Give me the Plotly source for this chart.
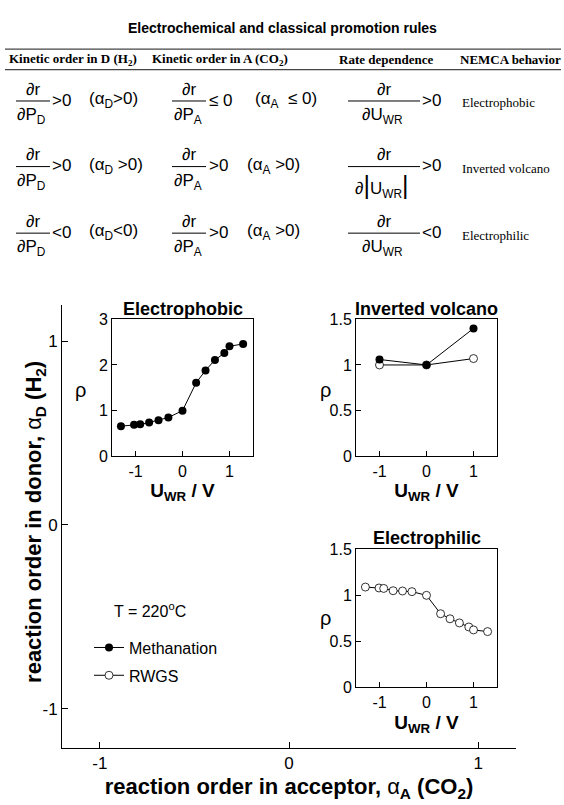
import plotly.graph_objects as go

W, H = 564, 805
SANS = "Liberation Sans, Arial, sans-serif"
SERIF = "Liberation Serif, Times New Roman, serif"

# ---------------- data ----------------
phobic_u = [-1.31, -1.03, -0.90, -0.71, -0.51, -0.30, 0.0, 0.29, 0.49, 0.69, 0.89, 1.0, 1.29]
phobic_rho_meth = [0.66, 0.69, 0.70, 0.74, 0.79, 0.85, 1.0, 1.61, 1.88, 2.11, 2.26, 2.41, 2.46]

volcano_u = [-1, 0, 1]
volcano_rho_meth = [1.06, 1.0, 1.40]
volcano_rho_rwgs = [1.0, 1.0, 1.07]

philic_u = [-1.30, -1.01, -0.91, -0.71, -0.51, -0.31, 0.0, 0.30, 0.50, 0.70, 0.90, 1.0, 1.30]
philic_rho_rwgs = [1.09, 1.08, 1.075, 1.05, 1.047, 1.04, 1.0, 0.80, 0.745, 0.70, 0.656, 0.624, 0.606]

main_ticks = [-1, 0, 1]
main_ticktext = ["-1", "0", "1"]
inset_u_ticks = [-1, 0, 1]
inset_u_ticktext = ["-1", "0", "1"]
phobic_rho_ticks = [0, 1, 2, 3]
small_rho_ticks = [0, 0.5, 1, 1.5]

series_names = ["Methanation", "RWGS"]
inset_titles = ["Electrophobic", "Inverted volcano", "Electrophilic"]
temperature_label = "T = 220<sup>o</sup>C"
x_title = "<b>reaction order in acceptor, </b>α<b><sub>A</sub> (CO<sub>2</sub>)</b>"
y_title = "<b>reaction order in donor, </b>α<b><sub>D</sub> (H<sub>2</sub>)</b>"

# table text
table_title = "Electrochemical and classical promotion rules"
table_headers = ["Kinetic order in D (H<sub>2</sub>)", "Kinetic order in A (CO<sub>2</sub>)",
                 "Rate dependence", "NEMCA behavior"]
numerator = "∂r"
col1_den = "∂P<sub>D</sub>"
col1_rel = ["&gt;0", "&gt;0", "&lt;0"]
col1_cond = ["(α<sub>D</sub>&gt;0)", "(α<sub>D</sub> &gt;0)", "(α<sub>D</sub>&lt;0)"]
col2_den = "∂P<sub>A</sub>"
col2_rel = ["≤ 0", "&gt;0", "&gt;0"]
col2_cond = ["(α<sub>A</sub>  ≤ 0)", "(α<sub>A</sub> &gt;0)", "(α<sub>A</sub> &gt;0)"]
col3_den = ["∂U<sub>WR</sub>",
            "∂<span style=\"font-size:25px\">|</span>U<sub>WR</sub><span style=\"font-size:25px\">|</span>",
            "∂U<sub>WR</sub>"]
col3_rel = ["&gt;0", "&gt;0", "&lt;0"]
behaviors = ["Electrophobic", "Inverted volcano", "Electrophilic"]


def px(x):
    return x / W


def py(y):
    return 1 - y / H


fig = go.Figure()

# main (empty) axes
fig.add_trace(go.Scatter(x=[], y=[], xaxis="x", yaxis="y", showlegend=False))

line_style = dict(color="black", width=1)
filled = dict(symbol="circle", size=8, color="black", line=dict(color="black", width=0))
opened = dict(symbol="circle", size=8, color="white", line=dict(color="black", width=0.8))

# Inset 1: electrophobic
fig.add_trace(go.Scatter(x=phobic_u, y=phobic_rho_meth, xaxis="x2", yaxis="y2",
                         mode="lines+markers", line=line_style, marker=filled,
                         name=series_names[0], showlegend=False))
# Inset 2: inverted volcano (RWGS first so filled markers sit on top)
fig.add_trace(go.Scatter(x=volcano_u, y=volcano_rho_rwgs, xaxis="x3", yaxis="y3",
                         mode="lines+markers", line=line_style, marker=opened,
                         name=series_names[1], legendrank=2, legendgroup="b"))
fig.add_trace(go.Scatter(x=volcano_u, y=volcano_rho_meth, xaxis="x3", yaxis="y3",
                         mode="lines+markers", line=line_style, marker=filled,
                         name=series_names[0], legendrank=1, legendgroup="a"))
# Inset 3: electrophilic
fig.add_trace(go.Scatter(x=philic_u, y=philic_rho_rwgs, xaxis="x4", yaxis="y4",
                         mode="lines+markers", line=line_style, marker=opened,
                         name=series_names[1], showlegend=False))

main_axis = dict(showline=True, linecolor="black", linewidth=1, mirror=False,
                 ticks="inside", ticklen=6, tickcolor="black", showgrid=False,
                 zeroline=False, tickvals=main_ticks, ticktext=main_ticktext,
                 tickfont=dict(size=17, family=SANS, color="black"))
inset_axis = dict(showline=True, linecolor="black", linewidth=1, mirror=True,
                  ticks="inside", ticklen=5, tickcolor="black", showgrid=False,
                  zeroline=False, tickfont=dict(size=16, family=SANS, color="black"))

u_title = dict(text="<b>U<sub>WR</sub> / V</b>", font=dict(size=19, family=SANS, color="black"), standoff=2)

box1_x = [px(112), px(253)]
box2_x = [px(356), px(497)]
top_y = [py(458), py(318)]
bot_y = [py(694), py(553)]

fig.update_layout(
    width=W, height=H, margin=dict(l=0, r=0, t=0, b=0),
    paper_bgcolor="white", plot_bgcolor="white",
    font=dict(family=SANS, color="black"),
    xaxis=dict(main_axis, domain=[px(62), px(516)], anchor="y", range=[-1.2, 1.2],
               title=dict(text=x_title, font=dict(size=22, family=SANS, color="black"), standoff=6)),
    yaxis=dict(main_axis, domain=[py(756), py(303)], anchor="x", range=[-1.215, 1.2]),
    xaxis2=dict(inset_axis, domain=box1_x, anchor="y2", range=[-1.5, 1.5],
                tickvals=inset_u_ticks, ticktext=inset_u_ticktext, title=u_title),
    yaxis2=dict(inset_axis, domain=top_y, anchor="x2", range=[0, 3],
                tickvals=phobic_rho_ticks),
    xaxis3=dict(inset_axis, domain=box2_x, anchor="y3", range=[-1.5, 1.5],
                tickvals=inset_u_ticks, ticktext=inset_u_ticktext, title=u_title),
    yaxis3=dict(inset_axis, domain=top_y, anchor="x3", range=[0, 1.5],
                tickvals=small_rho_ticks),
    xaxis4=dict(inset_axis, domain=box2_x, anchor="y4", range=[-1.5, 1.5],
                tickvals=inset_u_ticks, ticktext=inset_u_ticktext, title=dict(u_title, standoff=6)),
    yaxis4=dict(inset_axis, domain=bot_y, anchor="x4", range=[0, 1.5],
                tickvals=small_rho_ticks),
    legend=dict(x=px(89), y=py(636), xanchor="left", yanchor="top",
                font=dict(size=16, family=SANS, color="black"),
                bgcolor="rgba(0,0,0,0)", tracegroupgap=4),
)

ann = []


def add_text(x, y, text, size=17, family=SANS, xanchor="center", yanchor="middle", bold=False, angle=0):
    ann.append(dict(x=px(x), y=py(y), xref="paper", yref="paper", text=("<b>%s</b>" % text) if bold else text,
                    showarrow=False, xanchor=xanchor, yanchor=yanchor, textangle=angle,
                    font=dict(size=size, family=family, color="black")))


# main y-axis title (rotated)
add_text(35, 525, y_title, size=22, angle=-90)
# inset titles
add_text((112 + 253) / 2, 307, inset_titles[0], size=18, bold=True)
add_text((356 + 497) / 2, 307, inset_titles[1], size=18, bold=True)
add_text((356 + 497) / 2, 541, inset_titles[2], size=18, bold=True)
# inset y labels (upright rho)
add_text(80, 390, "ρ", size=20)
add_text(325, 390, "ρ", size=20)
add_text(325, 623, "ρ", size=20)
# temperature note
add_text(112, 615, temperature_label, size=16, xanchor="left")

# table
add_text(282, 20, table_title, size=14, bold=True)
header_cx = [73, 220, 386, 510]
for cx, h in zip(header_cx, table_headers):
    add_text(cx, 52.5, h, size=13, family=SERIF, bold=True)

shapes = []
for yy in (42, 63):
    shapes.append(dict(type="line", xref="paper", yref="paper", x0=px(5), x1=px(561),
                       y0=py(yy), y1=py(yy), line=dict(color="#444444", width=1.2)))

bar_y = [95, 162, 230]
for i, by in enumerate(bar_y):
    # column 1
    shapes.append(dict(type="line", xref="paper", yref="paper", x0=px(16), x1=px(50),
                       y0=py(by), y1=py(by), line=dict(color="black", width=1)))
    add_text(33, by - 12, numerator)
    add_text(31, by + 2, col1_den, yanchor="top")
    add_text(50, by - 1, col1_rel[i], xanchor="left")
    add_text(87, by - 1, col1_cond[i], xanchor="left")
    # column 2
    shapes.append(dict(type="line", xref="paper", yref="paper", x0=px(172), x1=px(206),
                       y0=py(by), y1=py(by), line=dict(color="black", width=1)))
    add_text(189, by - 12, numerator)
    add_text(188, by + 2, col2_den, yanchor="top")
    add_text(207, by - 1, col2_rel[i], xanchor="left")
    add_text(245 if i else 253, by - 1, col2_cond[i], xanchor="left")
    # column 3
    shapes.append(dict(type="line", xref="paper", yref="paper", x0=px(348), x1=px(420),
                       y0=py(by), y1=py(by), line=dict(color="black", width=1)))
    add_text(384, by - 12, numerator)
    add_text(382, by + 2, col3_den[i], yanchor="top")
    add_text(420, by - 1, col3_rel[i], xanchor="left")
    # column 4
    add_text(460, by + 2, behaviors[i], size=13, family=SERIF, xanchor="left")

fig.update_layout(annotations=ann, shapes=shapes)

fig.write_html("out.html")
